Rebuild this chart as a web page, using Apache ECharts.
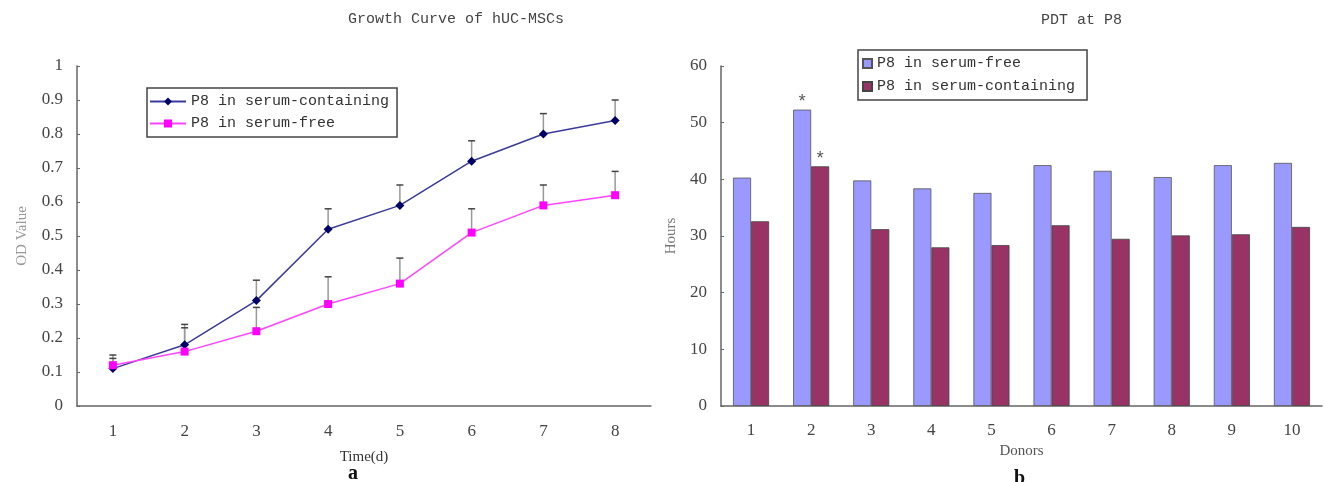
<!DOCTYPE html>
<html>
<head>
<meta charset="utf-8">
<script src="https://cdn.jsdelivr.net/npm/echarts@6/dist/echarts.min.js"></script>
<style>html,body{margin:0;padding:0;background:#fff}#c{width:1324px;height:482px}</style>
</head>
<body>
<div id="c"></div>
<script>
// ---- Panel a: growth curve ----
const days = ['1','2','3','4','5','6','7','8'];
const odContaining = [0.11, 0.18, 0.31, 0.52, 0.59, 0.72, 0.80, 0.84];
const odContainingUpper = [0.15, 0.24, 0.37, 0.58, 0.65, 0.78, 0.86, 0.90];
const odFree = [0.12, 0.16, 0.22, 0.30, 0.36, 0.51, 0.59, 0.62];
const odFreeUpper = [0.14, 0.23, 0.29, 0.38, 0.435, 0.58, 0.65, 0.69];
const odTicks = ['0','0.1','0.2','0.3','0.4','0.5','0.6','0.7','0.8','0.9','1'];

// ---- Panel b: PDT at P8 ----
const donors = ['1','2','3','4','5','6','7','8','9','10'];
const pdtFree = [40.3, 52.3, 39.8, 38.4, 37.6, 42.5, 41.5, 40.4, 42.5, 42.9];
const pdtContaining = [32.6, 42.3, 31.2, 28.0, 28.4, 31.9, 29.5, 30.1, 30.3, 31.6];
const starDonors = ['2'];

const mono = 'Liberation Mono, DejaVu Sans Mono, monospace';
const serif = 'Liberation Serif, DejaVu Serif, serif';
const axisColor = '#666';

function errRender(params, api) {
  const x = api.value(0);
  const base = api.coord([x, api.value(1)]);
  const top = api.coord([x, api.value(2)]);
  return {
    type: 'group',
    children: [
      {type: 'line', shape: {x1: base[0], y1: base[1], x2: top[0], y2: top[1]}, style: {stroke: '#999', lineWidth: 1.5}},
      {type: 'line', shape: {x1: top[0]-3.5, y1: top[1], x2: top[0]+3.5, y2: top[1]}, style: {stroke: '#444', lineWidth: 1.5}}
    ]
  };
}

const chart = echarts.init(document.getElementById('c'));
chart.setOption({
  animation: false,
  backgroundColor: '#fff',
  grid: [
    {left: 77, top: 66, width: 574, height: 340},
    {left: 721, top: 66, width: 601, height: 340}
  ],
  legend: [
    {
      data: ['P8 in serum-containing', 'P8 in serum-free'],
      orient: 'vertical', left: 147, top: 88,
      borderColor: '#444', borderWidth: 1.5, backgroundColor: '#fff',
      padding: [6, 8, 6, 2], itemGap: 7, itemWidth: 36, itemHeight: 10,
      textStyle: {fontFamily: mono, fontSize: 15, color: '#333'}
    },
    {
      data: ['P8 in serum-free ', 'P8 in serum-containing '],
      orient: 'vertical', left: 858, top: 50,
      borderColor: '#444', borderWidth: 1.5, backgroundColor: '#fff',
      padding: [6, 12, 6, 4], itemGap: 8, itemWidth: 9, itemHeight: 9, icon: 'rect',
      formatter: n => n.trim(),
      textStyle: {fontFamily: mono, fontSize: 15, color: '#333'}
    }
  ],
  xAxis: [
    {
      type: 'category', gridIndex: 0, data: days, boundaryGap: true,
      axisLine: {lineStyle: {color: axisColor, width: 1.5}},
      axisTick: {inside: true, length: 4, lineStyle: {color: axisColor}},
      axisLabel: {fontFamily: serif, fontSize: 17, color: '#444', margin: 17},
      name: 'Time(d)', nameLocation: 'middle', nameGap: 44,
      nameTextStyle: {fontFamily: serif, fontSize: 15, color: '#333'}
    },
    {
      type: 'category', gridIndex: 1, data: donors, boundaryGap: true,
      axisLine: {lineStyle: {color: axisColor, width: 1.5}},
      axisTick: {inside: true, length: 4, lineStyle: {color: axisColor}},
      axisLabel: {fontFamily: serif, fontSize: 17, color: '#444', margin: 16},
      name: 'Donors', nameLocation: 'middle', nameGap: 30,
      nameTextStyle: {fontFamily: serif, fontSize: 15, color: '#555'}
    }
  ],
  yAxis: [
    {
      type: 'value', gridIndex: 0, min: 0, max: 1, interval: 0.1,
      splitLine: {show: false},
      axisLine: {show: true, lineStyle: {color: axisColor, width: 1.5}},
      axisTick: {show: true, inside: true, length: 3, lineStyle: {color: axisColor}},
      axisLabel: {fontFamily: serif, fontSize: 17, color: '#444', margin: 14,
        formatter: (v, i) => odTicks[i]},
      name: 'OD Value', nameLocation: 'middle', nameGap: 47, nameRotate: 90,
      nameTextStyle: {fontFamily: serif, fontSize: 15, color: '#999'}
    },
    {
      type: 'value', gridIndex: 1, min: 0, max: 60, interval: 10,
      splitLine: {show: false},
      axisLine: {show: true, lineStyle: {color: axisColor, width: 1.5}},
      axisTick: {show: true, inside: true, length: 3, lineStyle: {color: axisColor}},
      axisLabel: {fontFamily: serif, fontSize: 17, color: '#444', margin: 14},
      name: 'Hours', nameLocation: 'middle', nameGap: 42, nameRotate: 90,
      nameTextStyle: {fontFamily: serif, fontSize: 15, color: '#777'}
    }
  ],
  series: [
    {
      name: 'err-containing', type: 'custom', xAxisIndex: 0, yAxisIndex: 0, z: 1,
      renderItem: errRender,
      data: days.map((d, i) => [i, odContaining[i], odContainingUpper[i]])
    },
    {
      name: 'err-free', type: 'custom', xAxisIndex: 0, yAxisIndex: 0, z: 1,
      renderItem: errRender,
      data: days.map((d, i) => [i, odFree[i], odFreeUpper[i]])
    },
    {
      name: 'P8 in serum-containing', type: 'line', xAxisIndex: 0, yAxisIndex: 0, z: 3,
      data: odContaining, symbol: 'diamond', symbolSize: 9, showAllSymbol: true,
      lineStyle: {color: '#3a3a9c', width: 1.5},
      itemStyle: {color: '#000066'}
    },
    {
      name: 'P8 in serum-free', type: 'line', xAxisIndex: 0, yAxisIndex: 0, z: 3,
      data: odFree, symbol: 'rect', symbolSize: 8, showAllSymbol: true,
      lineStyle: {color: '#ff44ff', width: 1.5},
      itemStyle: {color: '#ff00ff'}
    },
    {
      name: 'P8 in serum-free ', type: 'bar', xAxisIndex: 1, yAxisIndex: 1,
      data: pdtFree, barGap: '0%', barCategoryGap: '40%',
      itemStyle: {color: '#9999ff', borderColor: '#555', borderWidth: 0.8},
      label: {show: true, position: 'top', distance: -2, fontSize: 18, fontFamily: mono, color: '#555',
        formatter: p => starDonors.includes(p.name) ? '*' : ''}
    },
    {
      name: 'P8 in serum-containing ', type: 'bar', xAxisIndex: 1, yAxisIndex: 1,
      data: pdtContaining, barGap: '0%', barCategoryGap: '40%',
      itemStyle: {color: '#993366', borderColor: '#444', borderWidth: 0.8},
      label: {show: true, position: 'top', distance: -2, fontSize: 18, fontFamily: mono, color: '#555',
        formatter: p => starDonors.includes(p.name) ? '*' : ''}
    }
  ],
  graphic: [
    {type: 'text', left: 348, top: 12, style: {text: 'Growth Curve of hUC-MSCs', font: '15px ' + mono, fill: '#444'}},
    {type: 'text', left: 1041, top: 13, style: {text: 'PDT at P8', font: '15px ' + mono, fill: '#444'}},
    {type: 'text', left: 348, top: 464, style: {text: 'a', font: 'bold 20px ' + serif, fill: '#111'}},
    {type: 'text', left: 1014, top: 469, style: {text: 'b', font: 'bold 20px ' + serif, fill: '#111'}}
  ]
});
</script>
</body>
</html>
